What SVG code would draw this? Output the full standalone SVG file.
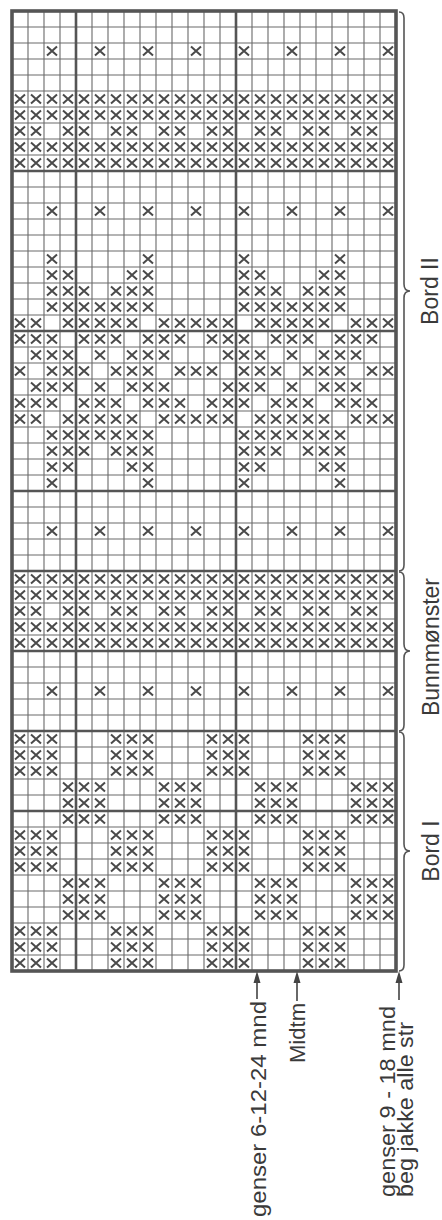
<svg xmlns="http://www.w3.org/2000/svg" width="442" height="1220" viewBox="0 0 442 1220">
<style>
.thin{stroke:#6a6a6a;stroke-width:1.1;fill:none}
.thick{stroke:#555;stroke-width:2.6;fill:none}
.border{stroke:#555;stroke-width:3.6;fill:none}
.xm{stroke:#4a4a4a;stroke-width:2;fill:none}
.brace{stroke:#555;stroke-width:1.6;fill:none}
.arrow{stroke:#444;stroke-width:1.6;fill:none}
.head{fill:#444}
.lbl{font-family:"Liberation Sans",Arial,sans-serif;font-size:23px;fill:#3a3a3a}
.lbl2{font-family:"Liberation Sans",Arial,sans-serif;font-size:22px;fill:#3a3a3a}
</style>
<defs>
<path id="x" class="xm" d="M-5,-4.5L5,4.5M5,-4.5L-5,4.5"/>
<g id="rP3"><use href="#x" x="52"/><use href="#x" x="100"/><use href="#x" x="148"/><use href="#x" x="196"/><use href="#x" x="244"/><use href="#x" x="292"/><use href="#x" x="340"/><use href="#x" x="388"/></g>
<g id="rN3"><use href="#x" x="20"/><use href="#x" x="36"/><use href="#x" x="68"/><use href="#x" x="84"/><use href="#x" x="116"/><use href="#x" x="132"/><use href="#x" x="164"/><use href="#x" x="180"/><use href="#x" x="212"/><use href="#x" x="228"/><use href="#x" x="260"/><use href="#x" x="276"/><use href="#x" x="308"/><use href="#x" x="324"/><use href="#x" x="356"/><use href="#x" x="372"/></g>
<g id="rAll"><use href="#rP3"/><use href="#rN3"/></g>
<g id="m0"><use href="#x" x="52"/><use href="#x" x="148"/><use href="#x" x="244"/><use href="#x" x="340"/></g>
<g id="m1"><use href="#m0"/><use href="#x" x="68"/><use href="#x" x="132"/><use href="#x" x="260"/><use href="#x" x="324"/></g>
<g id="m2"><use href="#m1"/><use href="#x" x="84"/><use href="#x" x="116"/><use href="#x" x="276"/><use href="#x" x="308"/></g>
<g id="m3"><use href="#m2"/><use href="#x" x="100"/><use href="#x" x="292"/></g>
<g id="m4"><use href="#x" x="20"/><use href="#x" x="36"/><use href="#x" x="68"/><use href="#x" x="84"/><use href="#x" x="100"/><use href="#x" x="116"/><use href="#x" x="132"/><use href="#x" x="164"/><use href="#x" x="180"/><use href="#x" x="196"/><use href="#x" x="212"/><use href="#x" x="228"/><use href="#x" x="260"/><use href="#x" x="276"/><use href="#x" x="292"/><use href="#x" x="308"/><use href="#x" x="324"/><use href="#x" x="356"/><use href="#x" x="372"/><use href="#x" x="388"/></g>
<g id="m5"><use href="#x" x="20"/><use href="#x" x="36"/><use href="#x" x="52"/><use href="#x" x="84"/><use href="#x" x="100"/><use href="#x" x="116"/><use href="#x" x="148"/><use href="#x" x="164"/><use href="#x" x="180"/><use href="#x" x="212"/><use href="#x" x="228"/><use href="#x" x="244"/><use href="#x" x="276"/><use href="#x" x="292"/><use href="#x" x="308"/><use href="#x" x="340"/><use href="#x" x="356"/><use href="#x" x="372"/></g>
<g id="m6"><use href="#x" x="36"/><use href="#x" x="52"/><use href="#x" x="68"/><use href="#x" x="100"/><use href="#x" x="132"/><use href="#x" x="148"/><use href="#x" x="164"/><use href="#x" x="228"/><use href="#x" x="244"/><use href="#x" x="260"/><use href="#x" x="292"/><use href="#x" x="324"/><use href="#x" x="340"/><use href="#x" x="356"/></g>
<g id="m7"><use href="#x" x="20"/><use href="#x" x="52"/><use href="#x" x="68"/><use href="#x" x="84"/><use href="#x" x="116"/><use href="#x" x="132"/><use href="#x" x="148"/><use href="#x" x="180"/><use href="#x" x="196"/><use href="#x" x="212"/><use href="#x" x="244"/><use href="#x" x="260"/><use href="#x" x="276"/><use href="#x" x="308"/><use href="#x" x="324"/><use href="#x" x="340"/><use href="#x" x="372"/><use href="#x" x="388"/></g>
<g id="rA"><use href="#x" x="20"/><use href="#x" x="36"/><use href="#x" x="52"/><use href="#x" x="116"/><use href="#x" x="132"/><use href="#x" x="148"/><use href="#x" x="212"/><use href="#x" x="228"/><use href="#x" x="244"/><use href="#x" x="308"/><use href="#x" x="324"/><use href="#x" x="340"/></g>
<g id="rB"><use href="#x" x="68"/><use href="#x" x="84"/><use href="#x" x="100"/><use href="#x" x="164"/><use href="#x" x="180"/><use href="#x" x="196"/><use href="#x" x="260"/><use href="#x" x="276"/><use href="#x" x="292"/><use href="#x" x="356"/><use href="#x" x="372"/><use href="#x" x="388"/></g>
</defs>
<rect width="442" height="1220" fill="#fff"/>
<g id="grid">
<path class="thin" d="M28,11V971M44,11V971M60,11V971M92,11V971M108,11V971M124,11V971M140,11V971M156,11V971M172,11V971M188,11V971M204,11V971M220,11V971M252,11V971M268,11V971M284,11V971M300,11V971M316,11V971M332,11V971M348,11V971M364,11V971M380,11V971"/>
<path class="thin" d="M12,27H396M12,43H396M12,59H396M12,75H396M12,91H396M12,107H396M12,123H396M12,139H396M12,155H396M12,187H396M12,203H396M12,219H396M12,235H396M12,251H396M12,267H396M12,283H396M12,299H396M12,315H396M12,347H396M12,363H396M12,379H396M12,395H396M12,411H396M12,427H396M12,443H396M12,459H396M12,475H396M12,507H396M12,523H396M12,539H396M12,555H396M12,587H396M12,603H396M12,619H396M12,635H396M12,667H396M12,683H396M12,699H396M12,715H396M12,747H396M12,763H396M12,779H396M12,795H396M12,827H396M12,843H396M12,859H396M12,875H396M12,891H396M12,907H396M12,923H396M12,939H396M12,955H396"/>
<path class="thick" d="M76,11V971M236,11V971M12,171H396M12,331H396M12,491H396M12,571H396M12,651H396M12,731H396M12,811H396"/>
<rect class="border" x="12" y="11" width="384" height="960"/>
</g>
<g id="bord-ii-chart">
<use href="#rP3" y="51"/>
<use href="#rAll" y="99"/><use href="#rAll" y="115"/><use href="#rN3" y="131"/><use href="#rAll" y="147"/><use href="#rAll" y="163"/>
<use href="#rP3" y="211"/>
<use href="#m0" y="259"/><use href="#m1" y="275"/><use href="#m2" y="291"/><use href="#m3" y="307"/><use href="#m4" y="323"/><use href="#m5" y="339"/><use href="#m6" y="355"/><use href="#m7" y="371"/><use href="#m6" y="387"/><use href="#m5" y="403"/><use href="#m4" y="419"/><use href="#m3" y="435"/><use href="#m2" y="451"/><use href="#m1" y="467"/><use href="#m0" y="483"/>
<use href="#rP3" y="531"/>
</g>
<g id="bunnmonster-chart">
<use href="#rAll" y="579"/><use href="#rAll" y="595"/><use href="#rN3" y="611"/><use href="#rAll" y="627"/><use href="#rAll" y="643"/>
<use href="#rP3" y="691"/>
</g>
<g id="bord-i-chart">
<use href="#rA" y="739"/><use href="#rA" y="755"/><use href="#rA" y="771"/>
<use href="#rB" y="787"/><use href="#rB" y="803"/><use href="#rB" y="819"/>
<use href="#rA" y="835"/><use href="#rA" y="851"/><use href="#rA" y="867"/>
<use href="#rB" y="883"/><use href="#rB" y="899"/><use href="#rB" y="915"/>
<use href="#rA" y="931"/><use href="#rA" y="947"/><use href="#rA" y="963"/>
</g>
<g id="label-bord-ii">
<path class="brace" d="M399,12q5,0 5,6V284q0,7 6,7q-6,0 -6,7V565q0,6 -5,6"/>
<text class="lbl" text-anchor="middle" transform="translate(438,291) rotate(-90)">Bord II</text>
</g>
<g id="label-bunnmonster">
<path class="brace" d="M399,572q5,0 5,6V644q0,7 6,7q-6,0 -6,7V725q0,6 -5,6"/>
<text class="lbl" text-anchor="middle" transform="translate(439,647) rotate(-90)">Bunnmønster</text>
</g>
<g id="label-bord-i">
<path class="brace" d="M399,732q5,0 5,6V844q0,7 6,7q-6,0 -6,7V965q0,6 -5,6"/>
<text class="lbl" text-anchor="middle" transform="translate(439,851) rotate(-90)">Bord I</text>
</g>
<g id="connectors">
<path class="arrow" d="M257,999V980M297,1001V980M399,1000V980"/>
<path class="head" d="M257,971l-3.5,12h7zM297,971l-3.5,12h7zM399,971l-3.5,12h7z"/>
</g>
<g id="label-genser-6-12-24">
<text class="lbl2" textLength="216" lengthAdjust="spacingAndGlyphs" transform="translate(266,1217) rotate(-90)">genser 6-12-24 mnd</text>
</g>
<g id="label-midtm">
<text class="lbl2" textLength="60" lengthAdjust="spacingAndGlyphs" transform="translate(305,1063) rotate(-90)">Midtm</text>
</g>
<g id="label-genser-9-18">
<text class="lbl2" textLength="191" lengthAdjust="spacingAndGlyphs" transform="translate(395,1197) rotate(-90)">genser 9 - 18 mnd</text>
<text class="lbl2" textLength="175" lengthAdjust="spacingAndGlyphs" transform="translate(413,1197) rotate(-90)">beg jakke alle str</text>
</g>
</svg>
